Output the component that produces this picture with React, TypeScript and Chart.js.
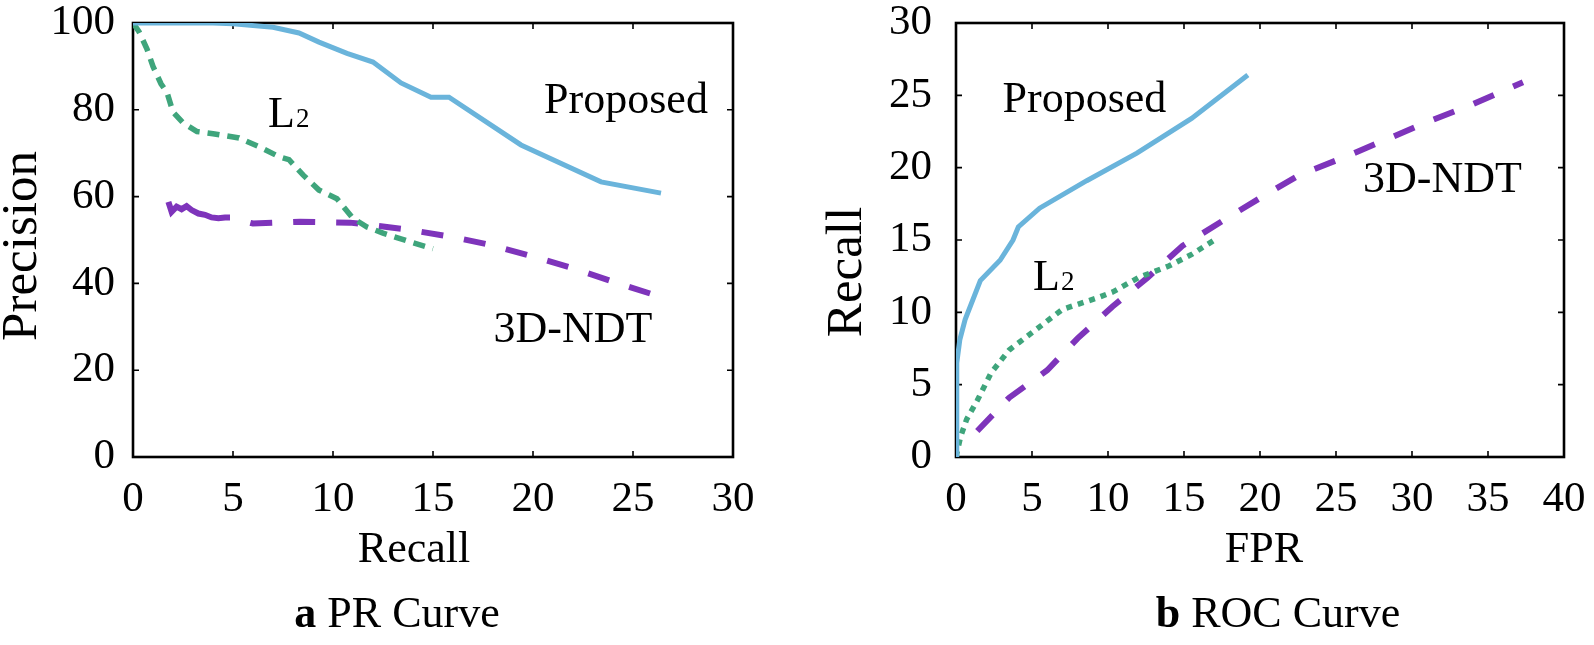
import React, { useEffect, useRef } from "react";
import { Chart, registerables } from "chart.js";

Chart.register(...registerables);

const FONT = "'Liberation Serif', 'Times New Roman', Times, serif";
const BLUE = "#6AB4DB";
const GREEN = "#3FA57C";
const PURPLE = "#7E34BB";

// ---------- (a) PR curve ----------
const PR_X_TICKS = [0, 5, 10, 15, 20, 25, 30];
const PR_Y_TICKS = [0, 20, 40, 60, 80, 100];

const PR_PROPOSED_RECALL = [0, 2, 4, 5, 7, 8.3, 9.3, 10.7, 12, 13.4, 14.9, 15.8, 19.4, 23.4, 26.4];
const PR_PROPOSED_PRECISION = [100, 100, 100, 99.8, 99, 97.7, 95.6, 93, 91, 86.2, 82.9, 82.9, 71.9, 63.4, 60.8];

const PR_L2_RECALL = [0, 0.3, 0.7, 1, 1.4, 1.7, 2, 2.5, 3.2, 4, 5.3, 6.3, 7.3, 7.8, 8.5, 9.3, 10.2, 11, 11.7, 12.5, 13.7, 15];
const PR_L2_PRECISION = [100, 98, 94, 90, 86, 84, 79.5, 77, 75, 74.5, 73.5, 71.5, 69.2, 68.5, 65, 61.5, 59.5, 55, 53, 51.6, 49.8, 48];

const PR_NDT_RECALL = [1.77, 1.93, 2.18, 2.43, 2.68, 2.93, 3.27, 3.6, 3.93, 4.27, 4.6, 4.85, 6.0, 8.35, 10.85, 13.6, 15.85, 17.85, 20, 22.2, 24.2, 25.9];
const PR_NDT_PRECISION = [58.8, 56.5, 57.7, 57.1, 57.8, 56.9, 56.1, 55.8, 55.2, 55.0, 55.2, 55.2, 53.8, 54.2, 54.0, 52.5, 50.8, 48.9, 46.2, 43.2, 40.1, 37.6];

// ---------- (b) ROC curve ----------
const ROC_X_TICKS = [0, 5, 10, 15, 20, 25, 30, 35, 40];
const ROC_Y_TICKS = [0, 5, 10, 15, 20, 25, 30];

const ROC_PROPOSED_FPR = [0, 0.05, 0.25, 0.6, 1.6, 2.9, 3.75, 4.1, 5.5, 8.6, 11.9, 15.5, 19.2];
const ROC_PROPOSED_RECALL = [0, 6.5, 8.1, 9.5, 12.2, 13.6, 15, 15.9, 17.2, 19.1, 21, 23.4, 26.4];

const ROC_L2_FPR = [0, 0.3, 0.7, 1.4, 2.3, 3.5, 5, 7, 9.3, 10.3, 12, 14, 15.5, 17];
const ROC_L2_RECALL = [0, 1.4, 2.6, 3.9, 5.8, 7.4, 8.6, 10.2, 11, 11.4, 12.4, 13.2, 14, 15];

const ROC_NDT_FPR = [1.4, 3.5, 6, 8, 10.3, 12.6, 14.9, 17.5, 20, 22.6, 25.5, 28.2, 31.1, 33.8, 37.3];
const ROC_NDT_RECALL = [1.8, 4.1, 6, 8.2, 10.4, 12.4, 14.6, 16.3, 17.9, 19.5, 20.7, 21.9, 23.2, 24.3, 25.9];

const zip = (xs: number[], ys: number[]) => xs.map((x, i) => ({ x, y: ys[i] }));

type Note = { text: string; sub?: string; x: number; y: number; align: "center" | "left" };
type Title = { text: string; x: number; y: number; rotate?: boolean; size: number };

function makeFramePlugin() {
  return {
    id: "frameTicks",
    beforeDatasetsDraw(chart: any) {
      const { ctx, chartArea: a, scales } = chart;
      const tl = 6;
      ctx.save();
      ctx.strokeStyle = "#000";
      ctx.lineWidth = 1.6;
      ctx.beginPath();
      for (const t of scales.x.ticks) {
        if (t.value === scales.x.min || t.value === scales.x.max) continue;
        const px = scales.x.getPixelForValue(t.value);
        ctx.moveTo(px, a.bottom);
        ctx.lineTo(px, a.bottom - tl);
        ctx.moveTo(px, a.top);
        ctx.lineTo(px, a.top + tl);
      }
      for (const t of scales.y.ticks) {
        if (t.value === scales.y.min || t.value === scales.y.max) continue;
        const py = scales.y.getPixelForValue(t.value);
        ctx.moveTo(a.left, py);
        ctx.lineTo(a.left + tl, py);
        ctx.moveTo(a.right, py);
        ctx.lineTo(a.right - tl, py);
      }
      ctx.stroke();
      ctx.lineWidth = 2.6;
      ctx.strokeRect(a.left, a.top, a.right - a.left, a.bottom - a.top);
      ctx.restore();
    },
  };
}

function makeTextPlugin(notes: Note[], titles: Title[]) {
  return {
    id: "texts",
    afterDatasetsDraw(chart: any) {
      const { ctx, scales } = chart;
      ctx.save();
      ctx.fillStyle = "#000";
      ctx.textBaseline = "alphabetic";
      for (const n of notes) {
        const px = scales.x.getPixelForValue(n.x);
        const py = scales.y.getPixelForValue(n.y);
        ctx.font = `44px ${FONT}`;
        ctx.textAlign = n.align;
        ctx.fillText(n.text, px, py);
        if (n.sub) {
          const w = ctx.measureText(n.text).width;
          ctx.font = `27px ${FONT}`;
          ctx.textAlign = "left";
          ctx.fillText(n.sub, px + w + 1, py);
        }
      }
      ctx.textAlign = "center";
      ctx.textBaseline = "middle";
      for (const t of titles) {
        ctx.save();
        ctx.font = `${t.size}px ${FONT}`;
        ctx.translate(t.x, t.y);
        if (t.rotate) ctx.rotate(-Math.PI / 2);
        ctx.fillText(t.text, 0, 0);
        ctx.restore();
      }
      ctx.restore();
    },
  };
}

type PanelProps = {
  left: number;
  width: number;
  yAxisWidth: number;
  padRight: number;
  xMax: number;
  xStep: number;
  yMax: number;
  yStep: number;
  yPad: number;
  datasets: any[];
  notes: Note[];
  titles: Title[];
};

const HEIGHT = 645;
const PLOT_TOP = 23;
const PLOT_BOTTOM = 457;

function Panel(p: PanelProps) {
  const ref = useRef<HTMLCanvasElement | null>(null);
  useEffect(() => {
    if (!ref.current) return;
    const tickFont = { family: FONT, size: 43 };
    const chart = new Chart(ref.current, {
      type: "line",
      data: { datasets: p.datasets },
      options: {
        animation: false,
        responsive: false,
        maintainAspectRatio: false,
        layout: { padding: { top: PLOT_TOP, right: p.padRight, left: 0, bottom: 0 } },
        plugins: { legend: { display: false }, tooltip: { enabled: false } },
        elements: { point: { radius: 0 }, line: { tension: 0 } },
        scales: {
          x: {
            type: "linear",
            min: 0,
            max: p.xMax,
            grid: { display: false, drawTicks: false },
            border: { display: false },
            ticks: { stepSize: p.xStep, font: tickFont, color: "#000", padding: 17, maxRotation: 0, autoSkip: false },
            afterFit: (s: any) => {
              s.height = HEIGHT - PLOT_BOTTOM;
              s.paddingLeft = 0;
              s.paddingRight = 0;
            },
          },
          y: {
            type: "linear",
            min: 0,
            max: p.yMax,
            grid: { display: false, drawTicks: false },
            border: { display: false },
            ticks: { stepSize: p.yStep, font: tickFont, color: "#000", padding: p.yPad, autoSkip: false },
            afterFit: (s: any) => {
              s.width = p.yAxisWidth;
              s.paddingTop = 0;
              s.paddingBottom = 0;
            },
          },
        },
      } as any,
      plugins: [makeFramePlugin(), makeTextPlugin(p.notes, p.titles)],
    });
    return () => chart.destroy();
  }, []);
  return (
    <canvas
      ref={ref}
      width={p.width}
      height={HEIGHT}
      style={{ position: "absolute", left: p.left, top: 0, width: p.width, height: HEIGHT }}
    />
  );
}

const ndtDash = (ctx: any) => (ctx.p0.parsed.x < 4.8 ? [] : [22, 21]);
const ndtDashOffset = (ctx: any) => (ctx.p0.parsed.x < 4.8 ? 0 : 22);

export default function App() {
  const prDatasets = [
    {
      label: "Proposed",
      data: zip(PR_PROPOSED_RECALL, PR_PROPOSED_PRECISION),
      borderColor: BLUE,
      borderWidth: 5,
      fill: false,
    },
    {
      label: "L2",
      data: zip(PR_L2_RECALL, PR_L2_PRECISION),
      borderColor: GREEN,
      borderWidth: 5.5,
      borderDash: [12, 8],
      fill: false,
    },
    {
      label: "3D-NDT",
      data: zip(PR_NDT_RECALL, PR_NDT_PRECISION),
      borderColor: PURPLE,
      borderWidth: 6,
      segment: { borderDash: ndtDash, borderDashOffset: ndtDashOffset },
      fill: false,
    },
  ];
  const rocDatasets = [
    {
      label: "Proposed",
      data: zip(ROC_PROPOSED_FPR, ROC_PROPOSED_RECALL),
      borderColor: BLUE,
      borderWidth: 5,
      fill: false,
    },
    {
      label: "L2",
      data: zip(ROC_L2_FPR, ROC_L2_RECALL),
      borderColor: GREEN,
      borderWidth: 5.5,
      borderDash: [6, 6],
      fill: false,
    },
    {
      label: "3D-NDT",
      data: zip(ROC_NDT_FPR, ROC_NDT_RECALL),
      borderColor: PURPLE,
      borderWidth: 6,
      borderDash: [22, 21],
      fill: false,
    },
  ];

  return (
    <div
      style={{
        position: "absolute",
        left: 0,
        top: 0,
        width: 1594,
        height: 645,
        overflow: "hidden",
        background: "#fff",
        fontFamily: FONT,
      }}
    >
      <Panel
        left={0}
        width={800}
        yAxisWidth={133}
        padRight={67}
        xMax={30}
        xStep={5}
        yMax={100}
        yStep={20}
        yPad={18}
        datasets={prDatasets}
        notes={[
          { text: "Proposed", x: 24.65, y: 79.3, align: "center" },
          { text: "L", sub: "2", x: 6.75, y: 76, align: "left" },
          { text: "3D-NDT", x: 22, y: 26.5, align: "center" },
        ]}
        titles={[
          { text: "Precision", x: 23, y: 246, rotate: true, size: 51 },
          { text: "Recall", x: 414, y: 550, size: 44 },
        ]}
      />
      <Panel
        left={800}
        width={794}
        yAxisWidth={156}
        padRight={30}
        xMax={40}
        xStep={5}
        yMax={30}
        yStep={5}
        yPad={24}
        datasets={rocDatasets}
        notes={[
          { text: "Proposed", x: 8.45, y: 23.84, align: "center" },
          { text: "L", sub: "2", x: 5.07, y: 11.54, align: "left" },
          { text: "3D-NDT", x: 32, y: 18.3, align: "center" },
        ]}
        titles={[
          { text: "Recall", x: 48, y: 272, rotate: true, size: 51 },
          { text: "FPR", x: 464, y: 550, size: 44 },
        ]}
      />
      <div
        style={{
          position: "absolute",
          left: 197,
          width: 400,
          top: 588,
          lineHeight: "50px",
          fontSize: 44,
          textAlign: "center",
          color: "#000",
        }}
      >
        <b>a</b> PR Curve
      </div>
      <div
        style={{
          position: "absolute",
          left: 1078,
          width: 400,
          top: 588,
          lineHeight: "50px",
          fontSize: 44,
          textAlign: "center",
          color: "#000",
        }}
      >
        <b>b</b> ROC Curve
      </div>
    </div>
  );
}
